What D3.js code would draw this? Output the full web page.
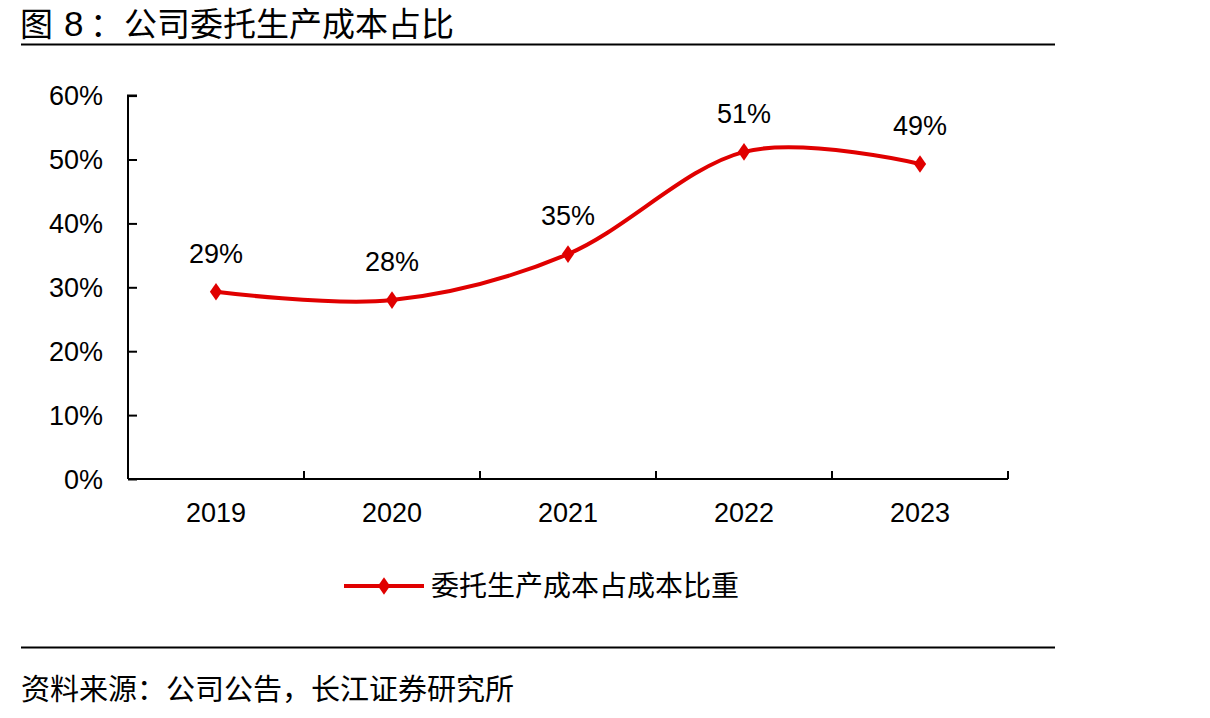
<!DOCTYPE html>
<html>
<head>
<meta charset="utf-8">
<script src="https://cdn.jsdelivr.net/npm/d3@7"></script>
<style>
  html, body { margin: 0; padding: 0; background: #fff; }
  svg { display: block; }
  text { font-family: "Liberation Sans", Arial, "Noto Sans CJK SC", sans-serif; fill: #000; }
  .cjk { font-family: "Liberation Sans", "Noto Sans CJK SC", sans-serif; }
</style>
</head>
<body>
<script>
const categories = ["2019", "2020", "2021", "2022", "2023"];
const values = [29.3, 28.0, 35.2, 51.2, 49.3];
const dataLabels = ["29%", "28%", "35%", "51%", "49%"];
const yTicks = [0, 10, 20, 30, 40, 50, 60];
const seriesName = "委托生产成本占成本比重";
const titleParts = ["图", "8", "：", "公司委托生产成本占比"];
const sourceText = "资料来源：公司公告，长江证券研究所";

const W = 1210, H = 718;
const red = "#E00000";
const svg = d3.select("body").append("svg").attr("width", W).attr("height", H);

// Title and rules
const titleX = [20, 64, 90, 124];
const titleSize = [33, 35, 33, 33];
const title = svg.append("text").attr("class", "cjk").attr("y", 36).attr("font-size", 33);
titleParts.forEach((t, i) => title.append("tspan").attr("x", titleX[i]).attr("font-size", titleSize[i]).text(t));
svg.append("line").attr("x1", 21).attr("x2", 1055).attr("y1", 44.5).attr("y2", 44.5)
  .attr("stroke", "#000").attr("stroke-width", 2);
svg.append("line").attr("x1", 21).attr("x2", 1055).attr("y1", 647.5).attr("y2", 647.5)
  .attr("stroke", "#000").attr("stroke-width", 2);
svg.append("text").attr("class", "cjk").attr("x", 21).attr("y", 700)
  .attr("font-size", 29).text(sourceText);

// Scales
const x = d3.scaleBand().domain(categories).range([128, 1008]);
const y = d3.scaleLinear().domain([0, 60]).range([479, 95.6]);

// Y axis
const yAxis = d3.axisRight(y).tickValues(yTicks).tickSize(9).tickFormat(() => "");
const gy = svg.append("g").attr("transform", "translate(128,0)").call(yAxis);
gy.select(".domain").attr("stroke", "#000").attr("stroke-width", 2).attr("d", `M9,${y(60)}H0V${y(0)}`);
gy.selectAll(".tick line").attr("stroke", "#000").attr("stroke-width", 2);
svg.selectAll(".ylab").data(yTicks).enter().append("text")
  .attr("x", 103).attr("y", d => y(d)).attr("dy", "0.36em")
  .attr("text-anchor", "end").attr("font-size", 27).text(d => d + "%");

// X axis
const xEdges = categories.map(c => x(c)).concat([x.range()[1]]);
const gx = svg.append("g");
gx.append("line").attr("x1", 128).attr("x2", 1008).attr("y1", 479).attr("y2", 479)
  .attr("stroke", "#000").attr("stroke-width", 2);
gx.selectAll(".xt").data(xEdges.slice(1)).enter().append("line")
  .attr("x1", d => d).attr("x2", d => d).attr("y1", 479).attr("y2", 471)
  .attr("stroke", "#000").attr("stroke-width", 2);
svg.selectAll(".xlab").data(categories).enter().append("text")
  .attr("x", d => x(d) + x.bandwidth() / 2).attr("y", 522)
  .attr("text-anchor", "middle").attr("font-size", 27).text(d => d);

// Line
const line = d3.line()
  .x((d, i) => x(categories[i]) + x.bandwidth() / 2)
  .y(d => y(d))
  .curve(d3.curveCardinal.tension(0));
svg.append("path").datum(values).attr("d", line)
  .attr("fill", "none").attr("stroke", red).attr("stroke-width", 4).attr("stroke-linejoin", "round");

const diamond = d3.symbol().type(d3.symbolDiamond).size(90);
svg.selectAll(".pt").data(values).enter().append("path")
  .attr("d", diamond)
  .attr("transform", (d, i) => `translate(${x(categories[i]) + x.bandwidth() / 2},${y(d)}) scale(1.2,1)`)
  .attr("fill", red);

svg.selectAll(".dl").data(values).enter().append("text")
  .attr("x", (d, i) => x(categories[i]) + x.bandwidth() / 2)
  .attr("y", d => y(d) - 29)
  .attr("text-anchor", "middle").attr("font-size", 27)
  .text((d, i) => dataLabels[i]);

// Legend
svg.append("line").attr("x1", 344).attr("x2", 424).attr("y1", 586).attr("y2", 586)
  .attr("stroke", red).attr("stroke-width", 4);
svg.append("path").attr("d", diamond).attr("transform", "translate(384,586) scale(1.2,1)").attr("fill", red);
svg.append("text").attr("class", "cjk").attr("x", 431).attr("y", 586).attr("dy", "0.36em")
  .attr("font-size", 28).text(seriesName);
</script>
</body>
</html>
